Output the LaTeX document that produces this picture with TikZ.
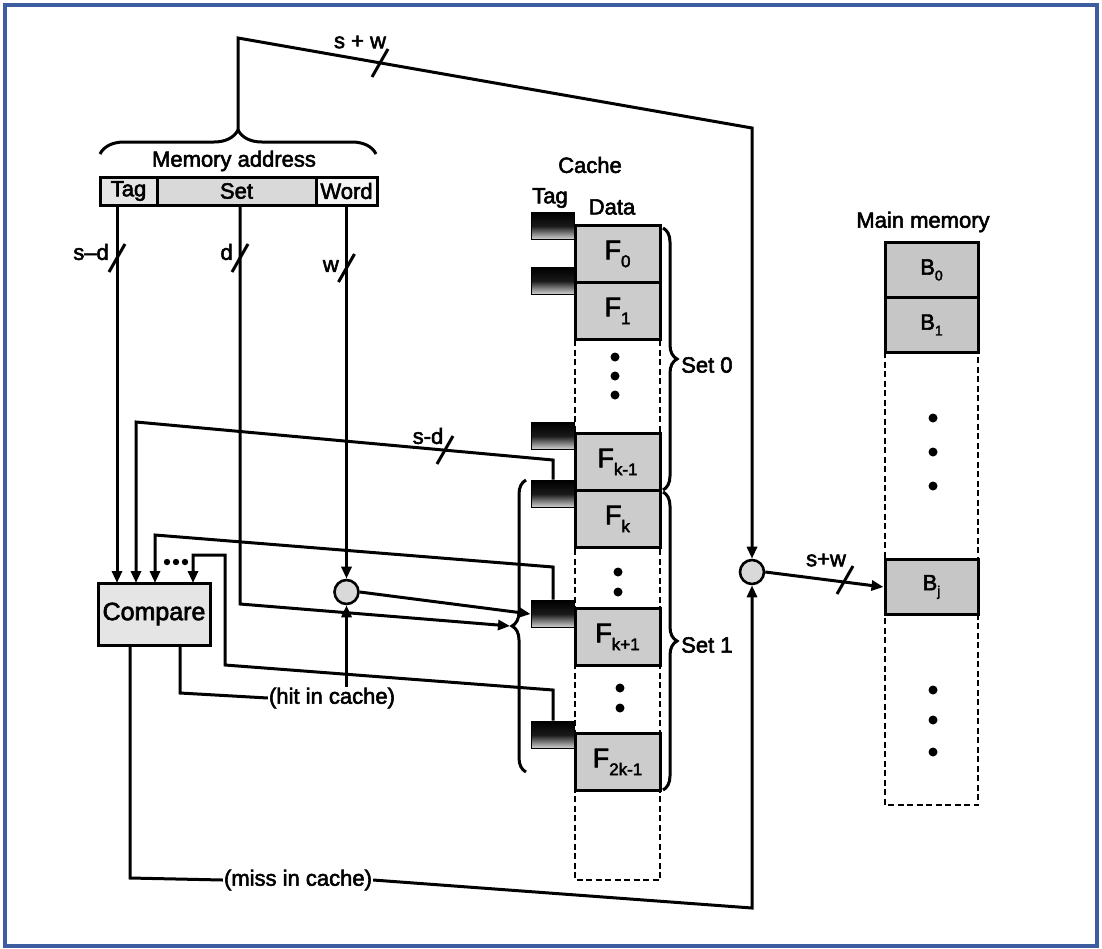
\documentclass[tikz,border=0pt]{standalone}
\usepackage{fontspec}
\setmainfont{Liberation Sans}
\newfontfamily\heavy{Liberation Sans}[FakeBold=2.5]
\usetikzlibrary{arrows.meta,decorations.pathreplacing}
\newcommand\lsub[1]{\raisebox{-0.55ex}{\fontsize{17}{17}\selectfont #1}}
\newcommand\msub[1]{\raisebox{-0.5ex}{\fontsize{14}{14}\selectfont #1}}
\definecolor{frameblue}{RGB}{62,92,160}
\begin{document}
\begin{tikzpicture}[x=1pt,y=-1pt,
  wire/.style={line width=3pt, line join=miter},
  arr/.style={wire, -{Triangle[length=12pt,width=10pt]}},
  field/.style={draw, line width=3pt, minimum height=28pt, inner sep=0pt, font=\heavy\fontsize{22}{24}\selectfont},
  databox/.style={draw, line width=3pt, fill=gray!40, minimum width=85pt, minimum height=57pt, inner sep=0pt, font=\heavy\fontsize{27}{28}\selectfont},
  tagbox/.style={draw, line width=1.8pt, top color=black, bottom color=gray!30, middle color=black!90, minimum width=43pt, minimum height=27pt, inner sep=0pt},
  membox/.style={draw, line width=3pt, fill=gray!45, minimum width=93pt, minimum height=55pt, inner sep=0pt, font=\heavy\fontsize{22}{24}\selectfont},
  mux/.style={circle, draw, line width=2.6pt, fill=gray!30, minimum size=24pt, inner sep=0pt},
  lbl/.style={font=\heavy\fontsize{22}{24}\selectfont, inner sep=1pt},
  dotted col/.style={line width=2.4pt, dash pattern=on 6pt off 3.5pt},
  brc/.style={wire, decorate}
]
\useasboundingbox (0,0) rectangle (1102,948);
\fill[white] (0,0) rectangle (1102,948);
\draw[frameblue, line width=3.5pt] (5,5) rectangle (1097,946);

% ---------- memory address ----------
\node[field, fill=gray!20, minimum width=57pt] (tag) at (128.5,191) {Tag};
\node[field, fill=gray!30, minimum width=159pt] (set) at (236.5,191) {Set};
\node[field, fill=gray!8, minimum width=61pt] (word) at (346.5,191) {Word};
\draw[brc, decoration={brace, amplitude=24pt}] (100,154) -- (376,154);
\coordinate (matip) at (238,130);
\node[lbl] (malbl) at (234,161) {Memory address};

% ---------- compare ----------
\node[draw, line width=3pt, fill=gray!20, minimum width=112pt, minimum height=62pt, inner sep=0pt, font=\heavy\fontsize{25}{26}\selectfont] (cmp) at (154,614) {Compare};
\coordinate (in1) at (117,583);
\coordinate (in2) at (136,583);
\coordinate (in3) at (155,583);
\coordinate (in4) at (193,583);
\coordinate (hitout) at (180,645);
\coordinate (missout) at (130,645);
\foreach \x in {167,176,185} \fill (\x,562) circle (3.2);

% ---------- multiplexer circles ----------
\node[mux] (circ1) at (346.5,592) {};
\node[mux] (circ2) at (752,572) {};

% ---------- cache ----------
\node[lbl] (cachelbl) at (590,165) {Cache};
\node[lbl] (taglbl) at (550,198) {Tag};
\node[lbl] (datalbl) at (612,207) {Data};
\draw[dotted col] (575,340) -- (575,880) -- (660,880) -- (660,340);
\node[databox] (f0) at (617.5,254) {F\lsub{0}};
\node[databox] (f1) at (617.5,311) {F\lsub{1}};
\node[databox] (fkm) at (617.5,462) {F\lsub{k-1}};
\node[databox] (fk) at (617.5,519) {F\lsub{k}};
\node[databox] (fkp) at (617.5,637) {F\lsub{k+1}};
\node[databox] (f2k) at (617.5,762) {F\lsub{2k-1}};
\node[tagbox] (t0) at (553,226) {};
\node[tagbox] (t1) at (553,281) {};
\node[tagbox] (tkm) at (553,436) {};
\node[tagbox] (tk) at (553,494) {};
\node[tagbox] (tkp) at (553,614) {};
\node[tagbox] (t2k) at (553,735) {};
\foreach \y in {357,376,395} \fill (615,\y) circle (4.5);
\foreach \y in {572,592} \fill (618,\y) circle (4.5);
\foreach \y in {688,708} \fill (620,\y) circle (4.5);

\draw[brc, decoration={brace, amplitude=14pt}] (663,228) -- (663,490);
\draw[brc, decoration={brace, amplitude=14pt}] (663,492) -- (663,790);
\node[lbl, anchor=west] (set0) at (680,365) {Set 0};
\node[lbl, anchor=west] (set1) at (680,645) {Set 1};
\draw[brc, decoration={brace, amplitude=14pt}] (526,772) -- (526,480);
\coordinate (brtip) at (510,626);

% ---------- main memory ----------
\node[lbl] (mmlbl) at (923,222) {Main memory};
\draw[dotted col] (885,352) -- (885,805) -- (978,805) -- (978,352);
\node[membox] (b0) at (931.5,270) {B\msub{0}};
\node[membox] (b1) at (931.5,325) {B\msub{1}};
\node[membox] (bj) at (931.5,587) {B\msub{j}};
\foreach \y in {418,452,486,690,720,752} \fill (933,\y) circle (4.5);

% ---------- wires ----------
% tag
\draw[arr] (tag.south -| in1) -- (in1);
\draw[wire] (117,258) ++(-8,14) -- ++(16,-28);
\node[lbl, anchor=east] (sdl) at (110,252) {s\textendash d};
% set
\coordinate (dx) at (240,604);
\draw[arr] (set.south -| dx) -- (dx) -- (brtip);
\draw[wire] (240,258) ++(-8,14) -- ++(16,-28);
\node[lbl, anchor=east] (dl) at (234,252) {d};
% word
\draw[arr] (word.south) -- (circ1.north);
\draw[wire] (346.5,268) ++(-8,14) -- ++(16,-28);
\node[lbl, anchor=east] (wl) at (340,266) {w};
% circle 1 output
\draw[arr] (circ1.east) -- (tkp.west);
% tag feedback lines
\draw[arr] (tk.north) -- (553,460) -- (136,422) -- (in2);
\draw[wire] (445,450) ++(-8,14) -- ++(16,-28);
\node[lbl] (sdm) at (428,436) {s-d};
\draw[arr] (tkp.north) -- (553,567) -- (155,535) -- (in3);
\draw[arr] (t2k.north) -- (553,690) -- (225,665) -- (225,555) -- (193,555) -- (in4);
% hit
\node[lbl] (hit) at (332,698) {(hit in cache)};
\draw[wire] (hitout) -- (180,693) -- (hit.west);
\draw[arr] (hit.north -| circ1) -- (circ1.south);
% miss
\node[lbl] (miss) at (298,880) {(miss in cache)};
\draw[wire] (missout) -- (130,878) -- (miss.west);
\draw[arr] (miss.east) -- (752,908) -- (circ2.south);
% top s+w
\draw[arr] (matip) -- (238,38) -- (752,128) -- (circ2.north);
\draw[wire] (380,63) ++(-8,14) -- ++(16,-28);
\node[lbl] (swtop) at (360,42) {s + w};
% output
\draw[arr] (circ2.east) -- (bj.west);
\draw[wire] (845,580) ++(-8,14) -- ++(16,-28);
\node[lbl] (swout) at (826,560) {s+w};
\end{tikzpicture}
\end{document}
